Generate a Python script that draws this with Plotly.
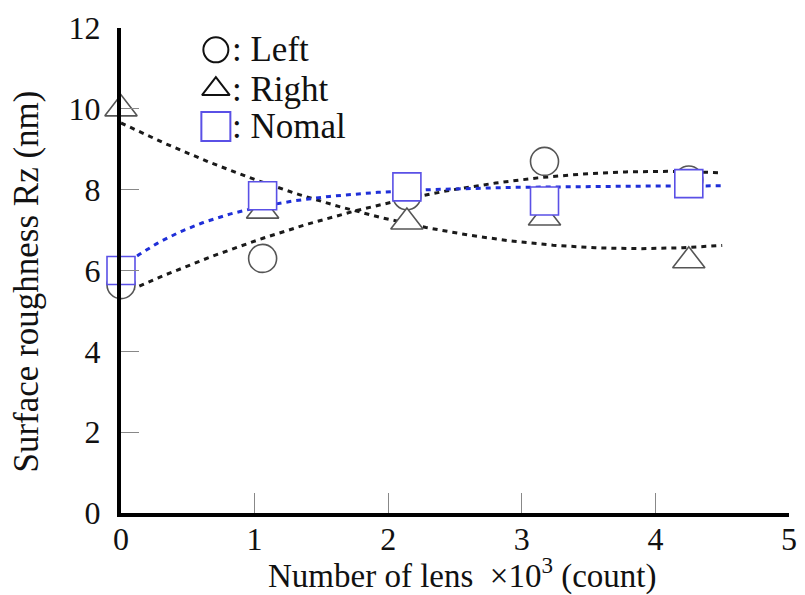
import numpy as np
import plotly.graph_objects as go

# Number of lenses processed (x10^3)
lens_count = [0.0, 1.06, 2.14, 3.17, 4.25]

# Surface roughness Rz (nm) for each measuring position
rz_left = [5.65, 6.3, 7.85, 8.7, 8.24]
rz_right = [10.0, 7.47, 7.2, 7.3, 6.24]
rz_nomal = [6.0, 7.85, 8.07, 7.72, 8.15]

series_names = [": Left", ": Right", ": Nomal"]
tick_vals_x = [0, 1, 2, 3, 4, 5]
tick_vals_y = [0, 2, 4, 6, 8, 10, 12]

FONT = "Liberation Serif"
GRAY = "#555555"
BLUE = "#5a50e6"


def poly_trend(x, y, deg, xs):
    return np.polyval(np.polyfit(x, y, deg), xs)


def saturating_trend(x, y, xs, rate=1.3):
    """Least-squares fit of y = a - b*exp(-rate*x) for a fixed rate."""
    x = np.asarray(x, float)
    y = np.asarray(y, float)
    A = np.column_stack([np.ones_like(x), -np.exp(-rate * x)])
    (a, b), *_ = np.linalg.lstsq(A, y, rcond=None)
    return a - b * np.exp(-rate * xs)


fig = go.Figure()

# Trend curves fitted through each series
x_fit = np.linspace(0, 4.5, 200)
trends = [
    (poly_trend(lens_count, rz_left, 2, x_fit), "#1a1a1a"),
    (poly_trend(lens_count, rz_right, 2, x_fit), "#1a1a1a"),
    (saturating_trend(lens_count, rz_nomal, x_fit), "#1f2fd8"),
]
for y_fit, col in trends:
    fig.add_trace(go.Scatter(
        x=x_fit, y=y_fit, mode="lines",
        line=dict(color=col, width=3, dash="5px,5px"),
        hoverinfo="skip", showlegend=False, cliponaxis=False,
    ))

# Measured points
markers = [
    (rz_left, "circle", GRAY, 28),
    (rz_right, "triangle-up", GRAY, 28),
    (rz_nomal, "square", BLUE, 28),
]
for vals, sym, col, size in markers:
    fig.add_trace(go.Scatter(
        x=lens_count, y=vals, mode="markers",
        marker=dict(symbol=sym, size=size, color="white",
                    line=dict(color=col, width=1.6)),
        showlegend=False, cliponaxis=False,
    ))

# Key drawn on an overlay axis in unit coordinates
key_symbols = ["circle", "triangle-up", "square"]
key_colors = ["#111111", "#111111", BLUE]
key_sizes = [25, 24, 29]
key_y = [0.955, 0.874, 0.797]
for sym, col, sz, ky, name in zip(key_symbols, key_colors, key_sizes, key_y, series_names):
    fig.add_trace(go.Scatter(
        x=[0.142], y=[ky], xaxis="x2", yaxis="y2", mode="markers",
        marker=dict(symbol=sym, size=sz, color="white", line=dict(color=col, width=2)),
        showlegend=False, hoverinfo="skip", cliponaxis=False,
    ))
    fig.add_annotation(
        x=0.163, y=ky, xref="x2", yref="y2", text=name, showarrow=False,
        xanchor="left", yanchor="middle",
        font=dict(family=FONT, size=35, color="#111111"),
    )

# Axis titles
fig.add_annotation(
    x=0.5, xref="paper", xshift=7, y=0, yref="paper", yshift=-60,
    text="Number of lens  ×10<sup>3</sup> (count)", showarrow=False,
    xanchor="center", yanchor="middle",
    font=dict(family=FONT, size=33, color="#111111"),
)
fig.add_annotation(
    x=0, xref="paper", xshift=-95, y=0.5, yref="paper", yshift=-11,
    text="Surface roughness Rz (nm)", showarrow=False, textangle=-90,
    xanchor="center", yanchor="middle",
    font=dict(family=FONT, size=35, color="#111111"),
)

fig.update_layout(
    width=805, height=595,
    margin=dict(l=121, r=8, t=28, b=82),
    paper_bgcolor="white", plot_bgcolor="white",
    showlegend=False,
    font=dict(family=FONT, color="#111111"),
    xaxis=dict(
        range=[0, 5], tickvals=tick_vals_x, ticks="inside", ticklen=20,
        tickcolor="#888888", tickwidth=1,
        showline=True, linecolor="black", linewidth=4,
        showgrid=False, zeroline=False, ticklabelstandoff=-5,
        tickfont=dict(family=FONT, size=32, color="#111111"),
    ),
    yaxis=dict(
        range=[0, 12], tickvals=tick_vals_y, ticks="inside", ticklen=18,
        tickcolor="#888888", tickwidth=1,
        showline=True, linecolor="black", linewidth=4,
        showgrid=False, zeroline=False, ticklabelstandoff=10,
        tickfont=dict(family=FONT, size=32, color="#111111"),
    ),
    xaxis2=dict(range=[0, 1], overlaying="x", visible=False),
    yaxis2=dict(range=[0, 1], overlaying="y", visible=False),
)

fig.write_html("out.html")
